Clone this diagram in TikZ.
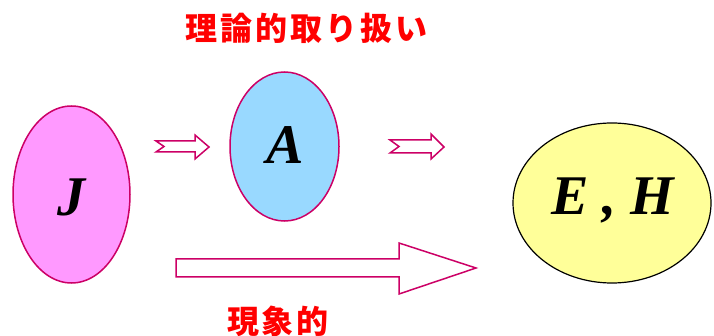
\documentclass[tikz,border=0pt]{standalone}
\usepackage{fontspec}
\setmainfont{Liberation Serif}
\newfontfamily\jpfont{Noto Sans CJK JP}
\usetikzlibrary{shapes.geometric}
\definecolor{bordercr}{HTML}{CC0066}
\definecolor{pinkfill}{HTML}{FF99FF}
\definecolor{bluefill}{HTML}{99D9FF}
\definecolor{yellowfill}{HTML}{FFFF99}
\definecolor{labred}{HTML}{FF0000}
\newcommand{\js}{\hspace{3pt}}
\tikzset{
  blob/.style={ellipse, draw=bordercr, line width=1.5pt, inner sep=0pt},
  letter/.style={font=\fontsize{56}{60}\selectfont\bfseries\itshape},
  jplabel/.style={font=\fontsize{32}{36}\selectfont\jpfont\bfseries, text=labred, inner sep=0pt},
  blockarrow/.style={draw=bordercr, line width=1.5pt, fill=white, line join=miter}
}
\begin{document}
\begin{tikzpicture}[x=1pt,y=-1pt]
\useasboundingbox (0,0) rectangle (714,336);
\node[blob, fill=pinkfill, minimum width=117pt, minimum height=177pt] (J) at (71.5,194.5) {};
\node[letter] (Jt) at (71,197) {J};
\node[blob, fill=bluefill, minimum width=109pt, minimum height=149pt] (A) at (284.5,146.5) {};
\node[letter] (At) at (285,145) {A};
\node[blob, draw=black, line width=1.2pt, fill=yellowfill, minimum width=198pt, minimum height=160pt] (EH) at (612,203) {};
\node[letter] (EHt) at (613,201) {E , H};
\node[jplabel] (theory) at (306.5,28) {理\js 論\js 的\js 取\js り\js 扱\js い};
\node[jplabel] (phen) at (278,321) {現\js 象\js 的};
\draw[blockarrow] (156,141) -- (195,141) -- (195,135) -- (209,147) -- (195,159) -- (195,152) -- (156,152) -- (164,146.5) -- cycle;
\draw[blockarrow] (390,140) -- (431,140) -- (431,134) -- (444,147) -- (431,159) -- (431,153) -- (390,153) -- (399,146.5) -- cycle;
\draw[blockarrow] (176,259) -- (399,259) -- (399,243) -- (476,268) -- (399,294) -- (399,277) -- (176,277) -- cycle;
\end{tikzpicture}
\end{document}
